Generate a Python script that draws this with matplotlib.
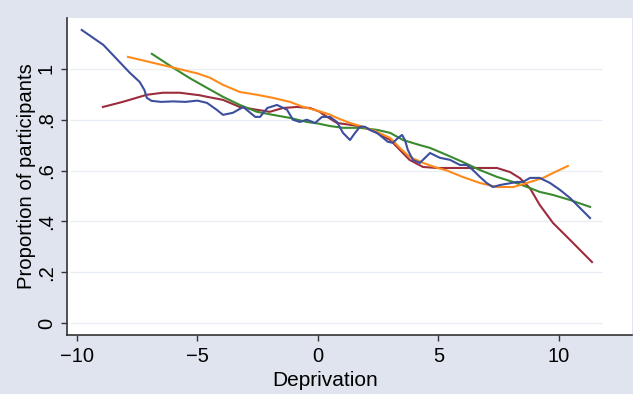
import matplotlib
matplotlib.use("Agg")
import matplotlib.pyplot as plt

plt.rcParams['font.family'] = ['Liberation Sans', 'DejaVu Sans']

# values
blue_x = [-9.8, -8.9, -8.2, -7.8, -7.4, -7.2, -7.1, -6.9, -6.5, -6.0, -5.5, -5.0,
          -4.6, -4.2, -3.94, -3.53, -3.1, -2.6, -2.4, -2.1, -1.7, -1.28, -1.04,
          -0.75, -0.46, -0.12, 0.17, 0.5, 0.79, 1.04, 1.33, 1.54, 1.74, 1.95, 2.16,
          2.45, 2.66, 2.9, 3.11, 3.32, 3.49, 3.61, 3.73, 3.94, 4.23, 4.65, 5.06,
          5.48, 5.89, 6.18, 6.43, 6.72, 7.0, 7.26, 7.55, 7.97, 8.26, 8.5, 8.8, 9.2,
          9.63, 10.04, 10.46, 10.87, 11.29]
blue_y = [1.153, 1.094, 1.024, 0.984, 0.949, 0.917, 0.886, 0.874, 0.870, 0.872,
          0.870, 0.875, 0.866, 0.839, 0.819, 0.827, 0.850, 0.811, 0.811, 0.846,
          0.858, 0.839, 0.800, 0.791, 0.800, 0.787, 0.811, 0.811, 0.791, 0.748,
          0.720, 0.748, 0.772, 0.772, 0.760, 0.748, 0.732, 0.713, 0.709, 0.728,
          0.740, 0.720, 0.681, 0.642, 0.630, 0.669, 0.650, 0.642, 0.622, 0.622,
          0.602, 0.575, 0.551, 0.535, 0.543, 0.550, 0.555, 0.555, 0.571, 0.571,
          0.551, 0.524, 0.492, 0.453, 0.413]

orange_x = [-7.88, -6.14, -5.0, -4.48, -3.94, -3.24, -2.53, -1.87, -1.16, -0.6,
            0.0, 0.5, 0.79, 1.33, 1.87, 2.45, 3.0, 3.4, 3.8, 4.36, 4.9, 5.35, 6.0,
            6.72, 7.43, 8.1, 8.67, 9.34, 9.75, 10.37]
orange_y = [1.047, 1.008, 0.982, 0.965, 0.937, 0.909, 0.898, 0.886, 0.870, 0.850,
            0.835, 0.820, 0.807, 0.787, 0.772, 0.752, 0.728, 0.689, 0.654, 0.630,
            0.612, 0.600, 0.575, 0.551, 0.535, 0.535, 0.551, 0.571, 0.590, 0.618]

green_x = [-6.89, -6.0, -5.31, -4.6, -3.94, -3.24, -2.53, -1.87, -1.16, -0.46,
           0.0, 0.5, 1.04, 1.74, 2.45, 3.0, 3.53, 4.23, 4.65, 5.35, 6.0, 6.72,
           7.43, 8.1, 8.8, 9.2, 9.75, 10.46, 11.29]
green_y = [1.059, 1.004, 0.963, 0.925, 0.890, 0.858, 0.831, 0.819, 0.807, 0.791,
           0.785, 0.775, 0.768, 0.768, 0.760, 0.748, 0.720, 0.700, 0.689, 0.661,
           0.634, 0.602, 0.575, 0.555, 0.531, 0.516, 0.504, 0.484, 0.457]

red_x = [-8.92, -8.1, -7.1, -6.43, -5.73, -4.9, -4.6, -3.94, -3.24, -2.53, -2.0,
         -1.45, -0.87, -0.33, 0.08, 0.2, 0.79, 1.33, 1.87, 2.45, 3.0, 3.4, 3.8,
         4.36, 4.94, 5.35, 6.0, 6.72, 7.43, 7.97, 8.38, 8.8, 9.2, 9.75, 10.46, 11.37]
red_y = [0.850, 0.870, 0.898, 0.906, 0.906, 0.896, 0.890, 0.878, 0.850, 0.839,
         0.831, 0.846, 0.850, 0.846, 0.831, 0.822, 0.787, 0.780, 0.772, 0.748,
         0.720, 0.681, 0.642, 0.614, 0.610, 0.610, 0.610, 0.610, 0.610, 0.594,
         0.570, 0.530, 0.465, 0.394, 0.327, 0.240]

yticks = [0, 0.2, 0.4, 0.6, 0.8, 1.0]
ytick_labels = ['0', '.2', '.4', '.6', '.8', '1']
xticks = [-10, -5, 0, 5, 10]
xtick_labels = ['\u221210', '\u22125', '0', '5', '10']

bg = '#dfe4ee'
fig = plt.figure(figsize=(6.33, 3.94), dpi=100, facecolor=bg)
ax = fig.add_axes([67 / 633, 59 / 394, 565 / 633, 317 / 394])
ax.set_facecolor('white')

# faint horizontal grid
ax.hlines(yticks, -10.3, 11.8, color='#e8eef6', linewidth=0.9, zorder=0)

lw = 1.5
ax.plot(red_x, red_y, color='#9b2d3c', linewidth=lw)
ax.plot(green_x, green_y, color='#3b8a2f', linewidth=lw)
ax.plot(orange_x, orange_y, color='#ff8a1c', linewidth=lw)
ax.plot(blue_x, blue_y, color='#3c4e9e', linewidth=lw)

ax.set_xlim(-10.41, 13.03)
ax.set_ylim(-0.047, 1.2)

ax.set_xticks(xticks)
ax.set_xticklabels(xtick_labels)
ax.set_yticks(yticks)
ax.set_yticklabels(ytick_labels, rotation=90, va='center')

ax.tick_params(axis='both', labelsize=14.5, length=4, width=1, color='#333333',
               direction='out')
ax.tick_params(axis='x', pad=5)
ax.tick_params(axis='y', pad=4)

for side in ['top', 'right']:
    ax.spines[side].set_visible(False)
for side in ['left', 'bottom']:
    ax.spines[side].set_color('#333333')
    ax.spines[side].set_linewidth(1.2)

ax.set_xlabel('Deprivation', fontsize=15)
ax.set_ylabel('Proportion of participants', fontsize=14.6)
ax.xaxis.set_label_coords(0.4575, -0.112)
ax.yaxis.set_label_coords(-0.055, 0.5)

fig.savefig('out.png', dpi=100, facecolor=bg)
